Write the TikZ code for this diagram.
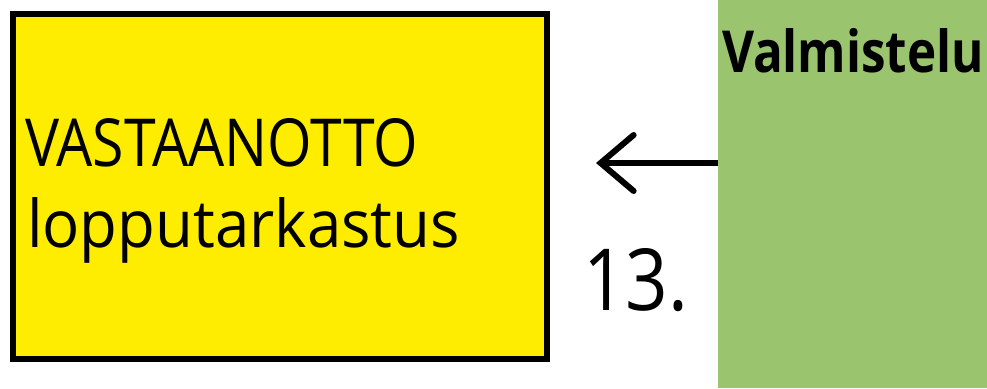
\documentclass[tikz,border=0pt]{standalone}
\usepackage{fontspec}
\usepackage{graphicx}
\setmainfont{Open Sans}
\usetikzlibrary{arrows.meta}
\definecolor{boxyellow}{RGB}{255,237,0}
\definecolor{prepgreen}{RGB}{155,196,110}
\tikzset{
  txt/.style={inner sep=0pt, outer sep=0pt, anchor=base west, text=black},
  yellowbox/.style={draw=black, line width=6pt, fill=boxyellow, minimum width=534pt, minimum height=345pt, anchor=north west, inner sep=0pt},
  greenbox/.style={fill=prepgreen, draw=none, minimum width=269pt, minimum height=388pt, anchor=north west, inner sep=0pt, outer sep=0pt},
  backarrow/.style={line width=6pt, -{Straight Barb[length=33pt,width=56pt,line cap=round]}}
}
\begin{document}
\begin{tikzpicture}[x=1pt,y=-1pt]
\useasboundingbox (0,0) rectangle (987,388);
\node[yellowbox] (vast) at (10,11) {};
\node[greenbox] (prep) at (718,0) {};
\node[txt] (l1) at (25,166) {\resizebox{393pt}{48pt}{VASTAANOTTO}};
\node[txt] (l2) at (27,247) {\resizebox{433pt}{50pt}{lopputarkastus}};
\node[txt] (num) at (583,310) {\resizebox{105pt}{62pt}{13.}};
\node[txt] (valm) at (722,72) {\resizebox{262pt}{44pt}{\bfseries Valmistelu}};
\coordinate (tip) at (596,163);
\draw[backarrow] (prep.west |- tip) -- (tip);
\end{tikzpicture}
\end{document}
